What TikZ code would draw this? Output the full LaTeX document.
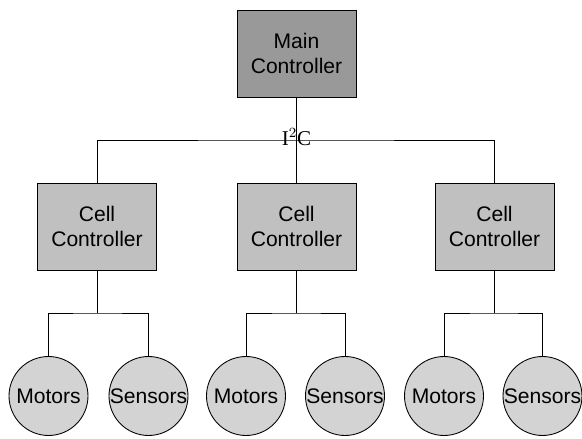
\documentclass[tikz,border=0pt]{standalone}
\usepackage{fontspec}
\setmainfont{Liberation Sans}
\newfontfamily\busfont{Liberation Serif}
\usetikzlibrary{positioning}
\definecolor{maingray}{RGB}{153,153,153}
\definecolor{cellgray}{RGB}{192,192,192}
\definecolor{partgray}{RGB}{211,211,211}
\tikzset{
mainbox/.style={draw, fill=maingray, minimum width=2.38cm, minimum height=1.74cm, align=center, font=\fontsize{12}{14.5}\selectfont},
cellbox/.style={draw, fill=cellgray, minimum width=2.38cm, minimum height=1.74cm, align=center, font=\fontsize{12}{14.5}\selectfont},
part/.style={draw, circle, fill=partgray, minimum size=1.58cm, inner sep=0pt, font=\fontsize{12}{14}\selectfont},
wire/.style={line width=0.5pt}
}

\begin{document}
\begin{tikzpicture}[x=0.02cm, y=-0.02cm, line width=0.5pt]
\useasboundingbox (0,0) rectangle (582,439);

\node[mainbox] (main) at (296.5,53.5) {Main\\Controller};
\coordinate (bus) at (296.5,140);
\node[font=\busfont\fontsize{12}{14}\selectfont, inner sep=0pt] (i2c) at (296.5,137) {I$^2$C};

\node[cellbox] (cellA) at (97,226.5) {Cell\\Controller};
\node[cellbox] (cellB) at (296.5,226.5) {Cell\\Controller};
\node[cellbox] (cellC) at (494.5,226.5) {Cell\\Controller};

% I2C bus
\draw[wire] (main) -- (cellB);
\draw[wire] (cellA) |- (bus) -| (cellC);

% motors and sensors
\node[part] (motA) at (48.5,396) {Motors};
\node[part] (senA) at (148.5,396) {Sensors};
\node[part] (motB) at (246,396) {Motors};
\node[part] (senB) at (345,396) {Sensors};
\node[part] (motC) at (444,396) {Motors};
\node[part] (senC) at (542.5,396) {Sensors};

\coordinate (forkA) at (97,313);
\coordinate (forkB) at (296.5,313);
\coordinate (forkC) at (494.5,313);

\draw[wire] (cellA) -- (forkA);
\draw[wire] (motA) |- (forkA) -| (senA);

\draw[wire] (cellB) -- (forkB);
\draw[wire] (motB) |- (forkB) -| (senB);

\draw[wire] (cellC) -- (forkC);
\draw[wire] (motC) |- (forkC) -| (senC);
\end{tikzpicture}
\end{document}
